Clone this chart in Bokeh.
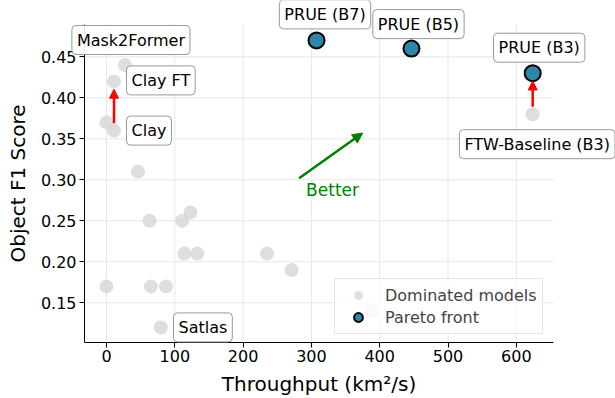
from bokeh.plotting import figure
from bokeh.models import (Label, Arrow, NormalHead, Legend, LegendItem, Range1d,
                          PrintfTickFormatter, FixedTicker)
from bokeh.embed import file_html
from bokeh.resources import INLINE

# ---- data ----
dominated_names = ["Mask2Former", "Clay FT", "m3", "Clay", "m5", "m6", "m7", "m8", "m9",
                   "m10", "m11", "m12", "m13", "m14", "m15", "Satlas", "m17", "FTW-Baseline (B3)"]
dominated_x = [27, 11, 0, 11, 46, 63, 111, 123, 114, 133, 235, 271, 0, 65, 87, 79.5, 389, 624]
dominated_y = [0.44, 0.42, 0.37, 0.36, 0.31, 0.25, 0.25, 0.26, 0.21, 0.21, 0.21, 0.19,
               0.17, 0.17, 0.17, 0.12, 0.14, 0.38]

pareto_names = ["PRUE (B7)", "PRUE (B5)", "PRUE (B3)"]
pareto_x = [307.5, 446.5, 624]
pareto_y = [0.47, 0.46, 0.43]

x_ticks = [0, 100, 200, 300, 400, 500, 600]
y_ticks = [0.15, 0.20, 0.25, 0.30, 0.35, 0.40, 0.45]

# axes box (data limits of the plotting area)
x_lo, x_hi = -32.2, 654.5
y_lo, y_hi = 0.1021, 0.4894

# labelled models: (name, pixel offset x, pixel offset y, align)
label_specs = [
    ("Mask2Former", 6, 25, "center"),
    ("Clay FT", 12.5, 1, "left"),
    ("Clay", 12.5, 0, "left"),
    ("Satlas", 12.7, 0, "left"),
    ("PRUE (B7)", 8.5, 26, "center"),
    ("PRUE (B5)", 7, 24.5, "center"),
    ("PRUE (B3)", 6.5, 25.5, "center"),
    ("FTW-Baseline (B3)", 4.5, -30, "center"),
]
# improvement arrows: (from model, to model)
improvements = [("Clay", "Clay FT"), ("FTW-Baseline (B3)", "PRUE (B3)")]
better_arrow = (282, 0.302, 375, 0.357)
better_text_pos = (331, 0.287)

FONT = "DejaVu Sans"
W, H = 615, 398
# pixel mapping of the axes (frame = whole canvas; axes drawn at fixed locations)
PX_X0, PX_PER_X = 106.0, 0.683     # px of x=0, px per unit
PX_Y45, PX_PER_Y = 56.3, 820.0     # px of y=0.45, px per unit

pos = {n: (x, y) for n, x, y in zip(dominated_names, dominated_x, dominated_y)}
pos.update({n: (x, y) for n, x, y in zip(pareto_names, pareto_x, pareto_y)})

xr = Range1d(-PX_X0 / PX_PER_X, (W - PX_X0) / PX_PER_X)
yr = Range1d(0.45 - (H - PX_Y45) / PX_PER_Y, 0.45 + PX_Y45 / PX_PER_Y)

p = figure(width=W, height=H, output_backend="svg", toolbar_location=None,
           x_range=xr, y_range=yr,
           min_border_left=0, min_border_right=0, min_border_top=0, min_border_bottom=0)
p.outline_line_color = None
p.background_fill_color = "white"
p.border_fill_color = "white"
p.xgrid.visible = False
p.ygrid.visible = False

# grid lines limited to the axes box
p.segment(x0=x_ticks, y0=[y_lo] * len(x_ticks), x1=x_ticks, y1=[y_hi] * len(x_ticks),
          line_color="#e6e6e6", line_width=1, level="underlay")
p.segment(x0=[x_lo] * len(y_ticks), y0=y_ticks, x1=[x_hi] * len(y_ticks), y1=y_ticks,
          line_color="#e6e6e6", line_width=1, level="underlay")

p.xaxis.ticker = FixedTicker(ticks=x_ticks)
p.yaxis.ticker = FixedTicker(ticks=y_ticks)
p.yaxis.formatter = PrintfTickFormatter(format="%.2f")
p.xaxis.fixed_location = y_lo
p.yaxis.fixed_location = x_lo
p.xaxis.bounds = (x_lo, x_hi)
p.yaxis.bounds = (y_lo, y_hi)
for ax in (p.xaxis, p.yaxis):
    ax.major_label_text_font = FONT
    ax.major_label_text_font_size = "16px"
    ax.major_label_text_color = "black"
    ax.axis_label_text_font = FONT
    ax.axis_label_text_font_size = "20px"
    ax.axis_label_text_font_style = "normal"
    ax.axis_label_text_color = "black"
    ax.axis_line_color = "black"
    ax.major_tick_line_color = "black"
    ax.major_tick_out = 5
    ax.major_tick_in = 0
    ax.minor_tick_line_color = None
    ax.major_label_standoff = 3
p.xaxis.axis_label_standoff = 6
p.yaxis.axis_label_standoff = 8
p.xaxis.axis_label = "Throughput (km²/s)"
p.yaxis.axis_label = "Object F1 Score"

r_dom = p.scatter(dominated_x, dominated_y, size=14, fill_color="#d3d3d3", fill_alpha=0.75,
                  line_color=None)
r_par = p.scatter(pareto_x, pareto_y, size=16, fill_color="#2E86AB", line_color="black",
                  line_width=2)

# red improvement arrows
for a, b in improvements:
    xa, ya = pos[a]
    xb, yb = pos[b]
    p.add_layout(Arrow(x_start=xa, y_start=ya + 0.009, x_end=xb, y_end=yb - 0.0095,
                       line_color="red", line_width=2.5,
                       end=NormalHead(size=9, fill_color="red", line_color="red")))

# green "Better" arrow
bx0, by0, bx1, by1 = better_arrow
p.add_layout(Arrow(x_start=bx0, y_start=by0, x_end=bx1, y_end=by1, line_color="green",
                   line_width=2.5, end=NormalHead(size=10, fill_color="green", line_color="green")))
p.add_layout(Label(x=better_text_pos[0], y=better_text_pos[1], text="Better", text_color="green",
                   text_font=FONT, text_font_size="17px", text_align="center",
                   text_baseline="middle"))

for name, dx, dy, align in label_specs:
    x, y = pos[name]
    p.add_layout(Label(x=x, y=y, x_offset=dx, y_offset=dy, text=name, text_font=FONT,
                       text_font_size="16px", text_color="black", text_align=align,
                       text_baseline="middle", padding=5, border_radius=4,
                       background_fill_color="white", background_fill_alpha=0.9,
                       border_line_color="#999999", border_line_width=1))

legend = Legend(items=[LegendItem(label="Dominated models", renderers=[r_dom]),
                       LegendItem(label="Pareto front", renderers=[r_par])],
                location=(334, 64), margin=0, padding=5, spacing=0,
                glyph_width=36, glyph_height=22, label_standoff=9,
                label_text_font=FONT, label_text_font_size="16px",
                border_line_color="#cccccc", background_fill_alpha=0.8)
p.add_layout(legend)

open("out.html", "w").write(file_html(p, INLINE))
